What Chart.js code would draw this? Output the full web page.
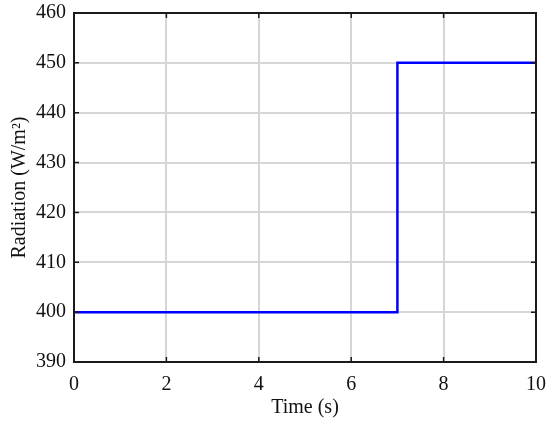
<!DOCTYPE html>
<html>
<head>
<meta charset="utf-8">
<script src="https://cdn.jsdelivr.net/npm/chart.js@4/dist/chart.umd.min.js"></script>
<style>
    html, body { margin: 0; padding: 0; background: #fff; }
</style>
</head>
<body>
<canvas id="radChart" width="550" height="423"></canvas>
<script>
// step in radiation at t = 7 s
const timeValues = [0, 7, 7, 10];
const radiationValues = [400, 400, 450, 450];
const xTicks = [0, 2, 4, 6, 8, 10];
const yTicks = [390, 400, 410, 420, 430, 440, 450, 460];

const points = timeValues.map((t, i) => ({x: t, y: radiationValues[i]}));

// box round the plot plus small inward ticks on all four sides, like matlab
const boxPlugin = {
    id: 'box',
    afterDraw(chart) {
        const ctx = chart.ctx;
        const a = chart.chartArea;
        const xs = chart.scales.x;
        const ys = chart.scales.y;
        ctx.save();
        ctx.strokeStyle = '#1a1a1a';
        ctx.lineWidth = 1.5;
        for (const v of xTicks) {
            const px = xs.getPixelForValue(v);
            ctx.beginPath();
            ctx.moveTo(px, a.bottom); ctx.lineTo(px, a.bottom - 5);
            ctx.moveTo(px, a.top); ctx.lineTo(px, a.top + 5);
            ctx.stroke();
        }
        for (const v of yTicks) {
            const py = ys.getPixelForValue(v);
            ctx.beginPath();
            ctx.moveTo(a.left, py); ctx.lineTo(a.left + 5, py);
            ctx.moveTo(a.right, py); ctx.lineTo(a.right - 5, py);
            ctx.stroke();
        }
        ctx.lineWidth = 2;
        ctx.strokeRect(a.left, a.top, a.right - a.left, a.bottom - a.top);
        ctx.restore();
    }
};

const serif = "'Liberation Serif', 'DejaVu Serif', serif";

new Chart("radChart", {
    type: "scatter",
    data: {
        datasets: [{
            data: points,
            showLine: true,
            borderColor: "#0000ff",
            borderWidth: 2.5,
            pointRadius: 0,
            fill: false
        }]
    },
    options: {
        responsive: false,
        animation: false,
        events: [],
        layout: {padding: {left: 0, top: 13, right: 14, bottom: 0}},
        plugins: {legend: {display: false}, tooltip: {enabled: false}},
        scales: {
            x: {
                type: "linear",
                min: 0, max: 10,
                afterBuildTicks: s => { s.ticks = xTicks.map(v => ({value: v})); },
                afterFit: s => { s.height = 61; s.paddingLeft = 0; s.paddingRight = 0; },
                grid: {color: "#d6d6d6", lineWidth: 2, drawTicks: false},
                border: {display: false},
                ticks: {color: "#111", padding: 11, autoSkip: false, maxRotation: 0,
                    font: {family: serif, size: 20}},
                title: {display: true, text: "Time (s)", color: "#111",
                    font: {family: serif, size: 20}, padding: {top: 0, bottom: 3}}
            },
            y: {
                min: 390, max: 460,
                afterBuildTicks: s => { s.ticks = yTicks.map(v => ({value: v})); },
                afterFit: s => { s.width = 74; s.paddingTop = 0; s.paddingBottom = 0; },
                grid: {color: "#d6d6d6", lineWidth: 2, drawTicks: false},
                border: {display: false},
                ticks: {color: "#111", padding: 8, autoSkip: false,
                    font: {family: serif, size: 20}},
                title: {display: true, text: "Radiation (W/m²)", color: "#111",
                    font: {family: serif, size: 20}, padding: {top: 8, bottom: 0}}
            }
        }
    },
    plugins: [boxPlugin]
});
</script>
</body>
</html>
